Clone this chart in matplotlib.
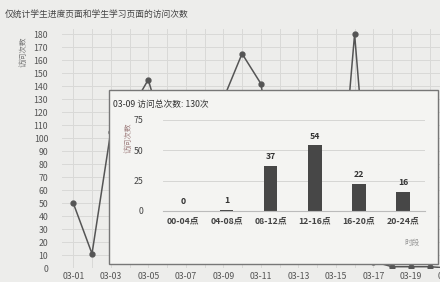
import matplotlib
matplotlib.use("Agg")
import matplotlib.pyplot as plt
from matplotlib.patches import Rectangle

plt.rcParams['font.family'] = ['Noto Sans CJK SC', 'DejaVu Sans']

# ---- data ----
dates = ['03-01', '03-02', '03-03', '03-04', '03-05', '03-06', '03-07', '03-08',
         '03-09', '03-10', '03-11', '03-12', '03-13', '03-14', '03-15', '03-16',
         '03-17', '03-18', '03-19', '03-20', '03-21']
visits = [50, 11, 105, 120, 145, 95, 60, 80, 130, 165, 142, 60, 40, 70, 10, 180,
          5, 1, 1, 1, 0]
yticks = list(range(0, 181, 10))

slots = ['00-04点', '04-08点', '08-12点', '12-16点', '16-20点', '20-24点']
slot_visits = [0, 1, 37, 54, 22, 16]

title = '仅统计学生进度页面和学生学习页面的访问次数'
ylabel = '访问次数'
popup_title = '03-09 访问总次数: 130次'
popup_xlabel = '时段'

W, H = 440, 282
fig = plt.figure(figsize=(W / 100, H / 100), dpi=100, facecolor='#ededeb')

def px(x0, y0, x1, y1):
    # convert pixel box (top-left origin) to figure fraction rect
    return [x0 / W, 1 - y1 / H, (x1 - x0) / W, (y1 - y0) / H]

# ---- main line chart ----
ax = fig.add_axes(px(62, 29, 454, 268))
ax.set_facecolor('#ededeb')
x = list(range(len(dates)))
ax.plot(x, visits, color='#555555', lw=1.1, marker='o', ms=3.5,
        markerfacecolor='#555555', markeredgecolor='#555555', zorder=3)
ax.set_xlim(-0.6, 20.3)
ax.set_ylim(0, 184)
ax.set_yticks(yticks)
ax.set_xticks(x[::2])
ax.set_xticklabels(dates[::2])
ax.set_xticks(x, minor=True)
ax.grid(True, which='both', color='#d9d9d7', lw=0.7)
for s in ax.spines.values():
    s.set_visible(False)
ax.tick_params(axis='both', which='both', length=0, labelsize=6.3, colors='#555555')
ax.tick_params(axis='y', pad=10)
ax.tick_params(axis='x', pad=3)
fig.text(24 / W, 1 - 52 / H, ylabel, rotation=90, fontsize=5.5, color='#777777',
         ha='center', va='center')
fig.text(5 / W, 1 - 14 / H, title, fontsize=6.3, color='#444444', ha='left', va='center')

# ---- popup ----
fig.patches.append(Rectangle((109 / W, 1 - 264 / H), (438 - 109) / W, (264 - 90) / H,
                             transform=fig.transFigure, facecolor='#f4f4f2',
                             edgecolor='#777777', lw=1.0, zorder=5))
fig.text(113 / W, 1 - 104 / H, popup_title, fontsize=6.3, color='#333333',
         ha='left', va='center', zorder=6)

bx = fig.add_axes(px(163, 120, 425, 211), zorder=6)
bx.patch.set_alpha(0)
bpos = list(range(len(slots)))
bars = bx.bar(bpos, slot_visits, width=0.3, color='#474747')
for p, v in zip(bpos, slot_visits):
    bx.text(p, v + 4, str(v), ha='center', va='bottom', fontsize=6.3,
            fontweight='bold', color='#333333')
bx.set_xlim(-0.45, 5.5)
bx.set_ylim(0, 75)
bx.set_yticks([0, 25, 50, 75])
bx.set_xticks(bpos)
bx.set_xticklabels(slots, fontweight='bold')
bx.grid(True, axis='y', color='#d6d6d4', lw=0.7)
bx.set_axisbelow(True)
for k, s in bx.spines.items():
    s.set_visible(k == 'bottom')
bx.spines['bottom'].set_color('#bbbbbb')
bx.tick_params(axis='both', length=0, labelsize=6.3, colors='#444444')
bx.tick_params(axis='y', pad=14)
bx.tick_params(axis='x', pad=4)
fig.text(129 / W, 1 - 138 / H, ylabel, rotation=90, fontsize=5.5, color='#a08080',
         ha='center', va='center', zorder=6)
fig.text(420 / W, 1 - 243 / H, popup_xlabel, fontsize=5.5, color='#999999',
         ha='right', va='center', zorder=6)

fig.savefig('out.png', dpi=100, facecolor=fig.get_facecolor())
